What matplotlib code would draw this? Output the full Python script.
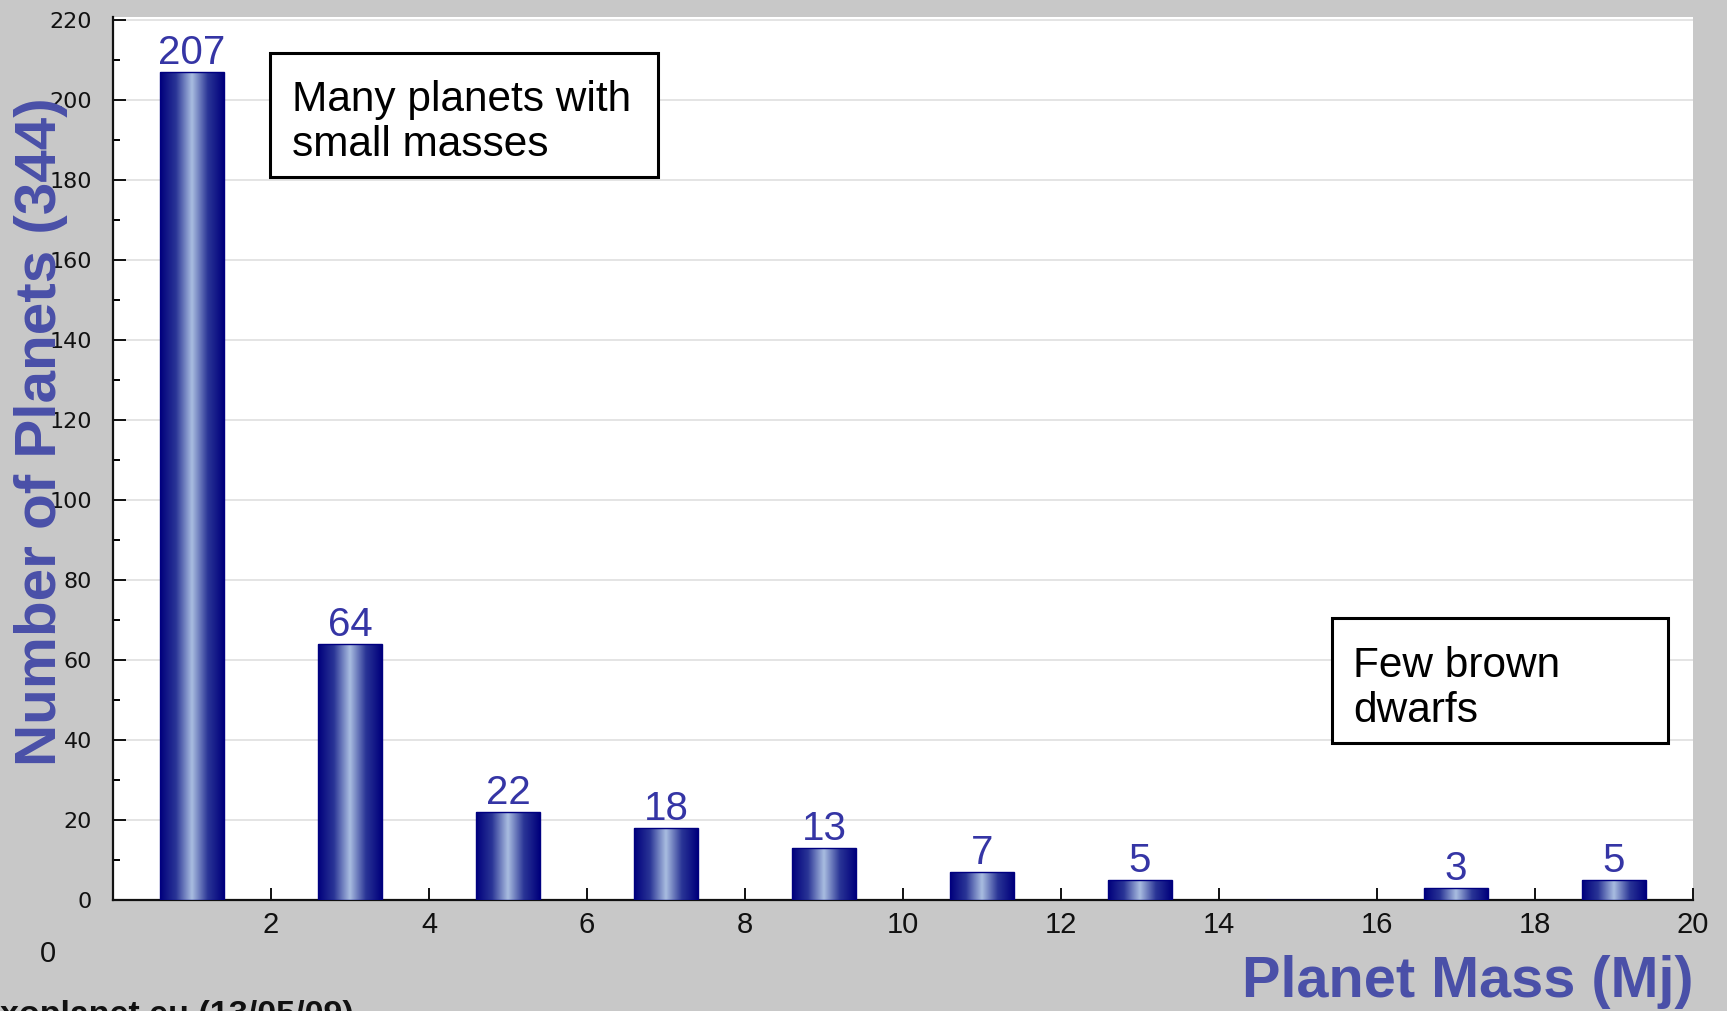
import numpy as np
import matplotlib.pyplot as plt
from matplotlib.colors import LinearSegmentedColormap
from matplotlib.patches import Rectangle
from matplotlib.ticker import MultipleLocator

# Distribution of exoplanet masses (in Jupiter masses), 2-Mj bins
mass_bins = [1, 3, 5, 7, 9, 11, 13, 15, 17, 19]
planet_counts = [207, 64, 22, 18, 13, 7, 5, 0, 3, 5]
total_planets = 344
x_ticks = [0, 2, 4, 6, 8, 10, 12, 14, 16, 18, 20]
x_tick_labels = ['', '2', '4', '6', '8', '10', '12', '14', '16', '18', '20']
y_ticks = [0, 20, 40, 60, 80, 100, 120, 140, 160, 180, 200, 220]

W, H = 1727, 1011
BG = '#c8c8c8'
NAVY = '#000080'
LABEL_BLUE = '#4a50a8'
VALUE_BLUE = '#3535a5'
SANS = ['Liberation Sans', 'DejaVu Sans']


def fx(px):
    return px / W


def fy(py):
    return 1 - py / H


fig = plt.figure(figsize=(W / 100, H / 100), dpi=100, facecolor=BG)
ax = fig.add_axes([fx(113), fy(900), (1693 - 113) / W, (900 - 17) / H])
ax.set_facecolor('white')

# horizontal gridlines
for v in y_ticks[1:]:
    ax.axhline(v, color='#e2e2e2', lw=1.3, zorder=0)

# bars: outline from ax.bar, filled with a horizontal shaded gradient
cmap = LinearSegmentedColormap.from_list(
    'tube', ['#00007c', '#2a3596', '#a9bde0', '#2a3596', '#00007c'])
grad = np.linspace(0, 1, 256).reshape(1, -1)
width = 0.8
bars = ax.bar(mass_bins, planet_counts, width=width, facecolor='none',
              edgecolor=NAVY, linewidth=1.0, zorder=4)
for rect, c, v in zip(bars, mass_bins, planet_counts):
    if v <= 0:
        continue
    im = ax.imshow(grad, extent=[c - width / 2, c + width / 2, 0, v],
                   aspect='auto', cmap=cmap, zorder=3, interpolation='bilinear')
    im.set_clip_path(rect)
    ax.text(c, v, str(v), ha='center', va='bottom', fontsize=29,
            color=VALUE_BLUE, family=SANS, zorder=5)

ax.set_xlim(0, 20)
ax.set_ylim(0, 220.75)

# axes styling
for side in ('top', 'right'):
    ax.spines[side].set_visible(False)
for side in ('left', 'bottom'):
    ax.spines[side].set_linewidth(1.6)
    ax.spines[side].set_color('#111111')

ax.set_xticks(x_ticks)
ax.set_xticklabels(x_tick_labels, fontsize=21, family=SANS)
ax.set_yticks(y_ticks)
ax.set_yticklabels([str(v) for v in y_ticks], fontsize=16, family='DejaVu Sans')
ax.yaxis.set_minor_locator(MultipleLocator(10))
ax.tick_params(axis='x', direction='in', length=9, width=1.4, pad=8,
               colors='#111111')
ax.tick_params(axis='y', which='major', direction='in', length=9, width=1.4,
               pad=15, colors='#111111')
ax.tick_params(axis='y', which='minor', direction='in', length=5, width=1.4)

# axis titles
fig.text(fx(41), fy(432), f'Number of Planets ({total_planets})', rotation=90,
         ha='center', va='center', fontsize=42, fontweight='bold',
         color=LABEL_BLUE, family=SANS)
fig.text(fx(1693), fy(997), 'Planet Mass (Mj)', ha='right', va='baseline',
         fontsize=41.5, fontweight='bold', color=LABEL_BLUE, family=SANS)

# stray origin label and source credit
fig.text(fx(48), fy(954), '0', ha='center', va='center', fontsize=21,
         color='#111111', family=SANS)
fig.text(fx(354), fy(1024), 'exoplanet.eu (13/05/09)', ha='right',
         va='baseline', fontsize=24.5, fontweight='bold', color='#111111',
         family=SANS)

# annotation boxes
def note(x0, y0, x1, y1, tx, ty, text):
    fig.patches.append(Rectangle((fx(x0), fy(y1)), (x1 - x0) / W,
                                 (y1 - y0) / H, transform=fig.transFigure,
                                 facecolor='white', edgecolor='black',
                                 linewidth=2.2, zorder=6))
    fig.text(fx(tx), fy(ty), text, ha='left', va='baseline', fontsize=30.5,
             color='black', family=SANS, linespacing=1.15, zorder=7)


note(270, 53, 658, 177, 292, 156, 'Many planets with\nsmall masses')
note(1332, 618, 1668, 743, 1353, 722, 'Few brown\ndwarfs')

fig.savefig('out.png', dpi=100, facecolor=fig.get_facecolor())
